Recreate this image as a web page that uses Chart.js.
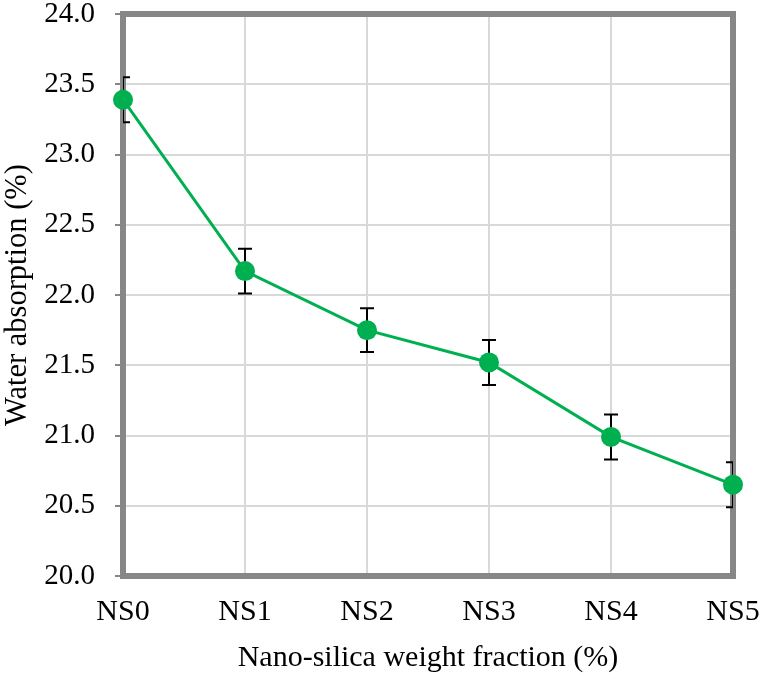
<!DOCTYPE html>
<html>
<head>
<meta charset="utf-8">
<script src="https://cdn.jsdelivr.net/npm/chart.js@4/dist/chart.umd.min.js"></script>
<style>
  body { margin: 0; background: #fff; }
  #wrap { width: 761px; height: 679px; }
</style>
</head>
<body>
<div id="wrap"><canvas id="grafica" width="761" height="679"></canvas></div>
<script>
// datos
const categorias = ['NS0', 'NS1', 'NS2', 'NS3', 'NS4', 'NS5'];
const absorcion = [23.39, 22.17, 21.75, 21.52, 20.99, 20.65];
const errores = [0.16, 0.16, 0.155, 0.16, 0.16, 0.16];
const ticksY = [20.0, 20.5, 21.0, 21.5, 22.0, 22.5, 23.0, 23.5, 24.0];

const verde = '#00b050';
const grisBorde = '#878787';
const fuente = "'Liberation Serif', 'Times New Roman', serif";

// quita el relleno automatico que Chart.js agrega por las etiquetas
const sinRelleno = (scale) => {
  scale.paddingTop = 0;
  scale.paddingBottom = 0;
  scale.paddingLeft = 0;
  scale.paddingRight = 0;
};

// borde grueso del area y barras de error (recortadas al area)
const bordeYErrores = {
  id: 'bordeYErrores',
  beforeDatasetsDraw(chart) {
    const { ctx, chartArea: a, scales: { x, y } } = chart;
    ctx.save();
    ctx.strokeStyle = grisBorde;
    ctx.lineWidth = 6;
    ctx.strokeRect(a.left, a.top, a.right - a.left, a.bottom - a.top);
    ctx.restore();

    ctx.save();
    ctx.beginPath();
    ctx.rect(a.left, a.top, a.right - a.left, a.bottom - a.top);
    ctx.clip();
    ctx.strokeStyle = '#000';
    ctx.lineWidth = 2;
    absorcion.forEach((v, i) => {
      const px = x.getPixelForValue(i);
      const yTop = y.getPixelForValue(v + errores[i]);
      const yBot = y.getPixelForValue(v - errores[i]);
      ctx.beginPath();
      ctx.moveTo(px, yTop);
      ctx.lineTo(px, yBot);
      ctx.moveTo(px - 7, yTop);
      ctx.lineTo(px + 7, yTop);
      ctx.moveTo(px - 7, yBot);
      ctx.lineTo(px + 7, yBot);
      ctx.stroke();
    });
    ctx.restore();
  }
};

const config = {
  type: 'line',
  data: {
    labels: categorias,
    datasets: [{
      data: absorcion,
      borderColor: verde,
      backgroundColor: verde,
      borderWidth: 3,
      pointRadius: 10,
      pointBorderWidth: 0,
      pointBackgroundColor: verde,
      tension: 0,
      clip: false
    }]
  },
  options: {
    responsive: false,
    animation: false,
    layout: { padding: { top: 14, right: 28, bottom: 0, left: 0 } },
    plugins: { legend: { display: false }, tooltip: { enabled: false } },
    scales: {
      x: {
        offset: false,
        grid: { color: '#d9d9d9', lineWidth: 2, drawTicks: false },
        border: { display: false },
        ticks: { color: '#000', padding: 18, maxRotation: 0, font: { family: fuente, size: 30 } },
        title: {
          display: true,
          text: 'Nano-silica weight fraction (%)',
          color: '#000',
          font: { family: fuente, size: 30 },
          padding: { top: 0, bottom: 3 }
        },
        afterFit(scale) {
          scale.height = 103;
          sinRelleno(scale);
        }
      },
      y: {
        min: 20,
        max: 24,
        afterBuildTicks(scale) { scale.ticks = ticksY.map((v) => ({ value: v })); },
        grid: { color: '#d9d9d9', lineWidth: 2, tickLength: 8, tickColor: grisBorde },
        border: { display: false },
        ticks: {
          color: '#000',
          padding: 20,
          font: { family: fuente, size: 29 },
          callback: (v) => Number(v).toFixed(1)
        },
        title: {
          display: true,
          text: 'Water absorption (%)',
          color: '#000',
          font: { family: fuente, size: 30.5 },
          padding: { top: 0, bottom: 0 }
        },
        afterFit(scale) {
          scale.width = 123;
          sinRelleno(scale);
        }
      }
    }
  },
  plugins: [bordeYErrores]
};

new Chart(document.getElementById('grafica'), config);
</script>
</body>
</html>
